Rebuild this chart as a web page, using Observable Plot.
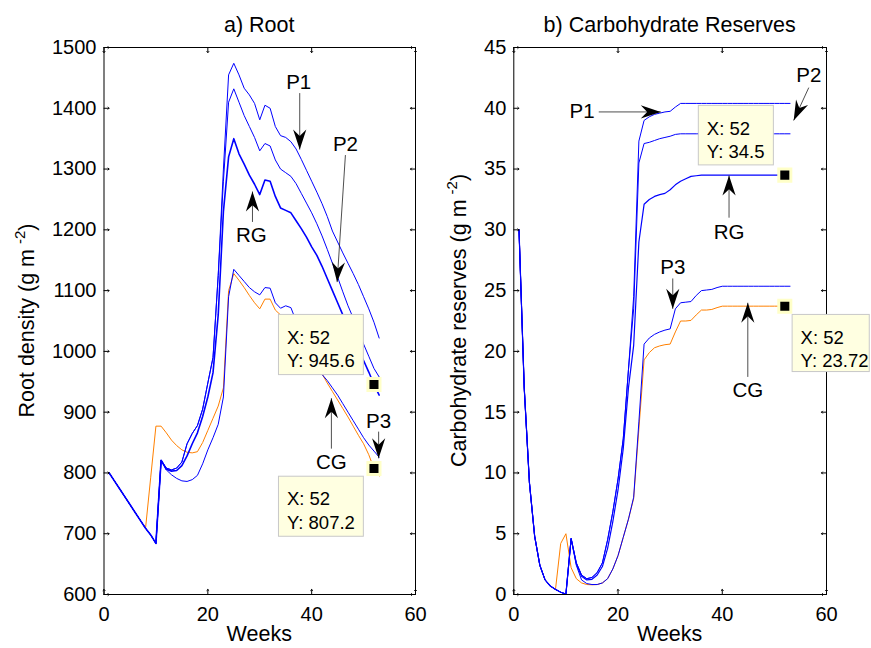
<!DOCTYPE html>
<html>
<head>
<meta charset="utf-8">
<script src="https://cdn.jsdelivr.net/npm/d3@7"></script>
<script src="https://cdn.jsdelivr.net/npm/@observablehq/plot@0.6"></script>
<style>
  body { margin: 0; background: #fff; }
  #fig { position: relative; width: 871px; height: 648px; overflow: hidden; background: #fff; }
  #fig svg { position: absolute; top: 0; overflow: visible; }
</style>
</head>
<body>
<div id="fig"></div>
<script>
// ---------------- DATA ----------------
const weeks = [1,2,3,4,5,6,7,8,9,10,11,12,13,14,15,16,17,18,19,20,21,22,23,24,25,26,27,28,29,30,31,32,33,34,35,36,37,38,39,40,41,42,43,44,45,46,47,48,49,50,51,52,53];
const seriesNames = ["CG", "P3", "RG", "P2", "P1"];
const xTicks = [0, 20, 40, 60];

// a) Root density (g m-2)
const rootCG = [800,787,774,761,748,735,722,709,793,877,877, 866,854,845,838,834,833,835,850,870,890,910, 940,1100,1128,1117,1105,1092,1080,1070,1086,1086,1068,1060,1052,1042,1030,1018,1005,992,978,963,948,934,920,906,892,877,862,848,830,807.2,795];
const rootP3 = [800,787,774,761,748,735,722,709,698,684,821, 805,797,791,787,786,789,796,815,838,858,880, 925,1090,1135,1125,1115,1105,1098,1093,1105,1104,1080,1071,1075,1072,1050,1032,1012,995,978,962,952,940,928,914,900,886,872,858,846,836,826];
const rootRG = [800,787,774,761,748,735,722,709,698,684,821, 806,803,804,812,828,848,866,893,925,965,1060, 1230,1320,1350,1325,1308,1290,1275,1258,1282,1280,1255,1236,1232,1228,1215,1202,1188,1172,1158,1140,1120,1100,1080,1060,1040,1022,1003,985,966,945.6,928];
const rootP2 = [800,787,774,761,748,735,722,709,698,684,821, 808,805,808,818,848,865,878,905,948,990,1125, 1280,1410,1432,1410,1388,1370,1352,1330,1342,1338,1315,1300,1294,1288,1276,1260,1244,1228,1210,1190,1168,1145,1122,1098,1075,1055,1035,1012,992,972,958];
const rootP1 = [800,787,774,761,748,735,722,709,698,684,821, 808,805,808,818,848,865,878,905,948,990,1125, 1300,1455,1474,1455,1433,1422,1408,1381,1405,1400,1370,1355,1352,1345,1333,1316,1298,1280,1262,1243,1222,1198,1180,1162,1145,1128,1110,1090,1070,1048,1022];
const rootYTicks = [600,700,800,900,1000,1100,1200,1300,1400,1500];

// b) Carbohydrate reserves (g m-2)
const carbCG = [30,17,9.2,4.8,2.4,1.2,0.7,0.42,4.2,5.0,2.2, 1.3,0.95,0.82,0.8,0.82,0.95,1.3,2.1,3.2,4.7,6.2, 7.9,13.6,19.3,19.9,20.3,20.45,20.55,20.6,21.6,22.5,22.5,22.55,23.0,23.4,23.4,23.45,23.6,23.72, 23.72,23.72,23.72,23.72,23.72,23.72,23.72,23.72,23.72,23.72,23.72,23.72,23.72];
const carbP3 = [30,17,9.2,4.8,2.4,1.2,0.7,0.42,0.19,0.03,4.6, 2.4,1.2,0.9,0.82,0.82,0.95,1.3,2.1,3.2,4.7,6.2, 8.0,14.2,20.6,21.1,21.4,21.6,21.75,21.85,23.5,24.0,24.05,24.1,24.6,25.0,25.05,25.1,25.25,25.36, 25.36,25.36,25.36,25.36,25.36,25.36,25.36,25.36,25.36,25.36,25.36,25.36,25.36];
const carbRG = [30,17,9.2,4.8,2.4,1.2,0.7,0.42,0.19,0.03,4.6, 2.5,1.5,1.2,1.25,1.6,2.3,3.8,6.0,8.6,12,17, 20.5,29,32.1,32.5,32.75,32.9,33.0,33.3,33.7,34.0,34.2,34.4,34.45,34.5, 34.5,34.5,34.5,34.5,34.5,34.5,34.5,34.5,34.5,34.5,34.5,34.5,34.5,34.5,34.5,34.5,34.5];
const carbP2 = [30,17,9.2,4.8,2.4,1.2,0.7,0.42,0.19,0.03,4.6, 2.6,1.6,1.3,1.4,1.8,2.6,4.5,6.8,9.5,12.8,18.5, 23.5,35.5,37.1,37.2,37.35,37.5,37.6,37.7,37.85,37.9, 37.9,37.9,37.9,37.9,37.9,37.9,37.9,37.9,37.9,37.9,37.9,37.9,37.9,37.9,37.9,37.9,37.9,37.9,37.9,37.9,37.9];
const carbP1 = [30,17,9.2,4.8,2.4,1.2,0.7,0.42,0.19,0.03,4.6, 2.6,1.6,1.3,1.4,1.8,2.6,4.5,6.8,9.5,12.8,18.5, 24.5,37.3,39.0,39.3,39.5,39.6,39.7,39.75,40.1,40.4, 40.4,40.4,40.4,40.4,40.4,40.4,40.4,40.4,40.4,40.4,40.4,40.4,40.4,40.4,40.4,40.4,40.4,40.4,40.4,40.4,40.4];
const carbYTicks = [0,5,10,15,20,25,30,35,40,45];

// annotations (data units: week, value)
const rootLabels = [
  {text: "P1", x: 37.5, y: 1443}, {text: "P2", x: 46.5, y: 1340}, {text: "RG", x: 28.4, y: 1191},
  {text: "P3", x: 52.9, y: 884}, {text: "CG", x: 43.8, y: 817}
];
const rootArrows = [
  {x1: 37.7, y1: 1425, x2: 37.7, y2: 1332},
  {x1: 46.5, y1: 1323, x2: 44.9, y2: 1114},
  {x1: 28.6, y1: 1213, x2: 28.6, y2: 1263},
  {x1: 52.9, y1: 868, x2: 52.9, y2: 824},
  {x1: 43.8, y1: 840, x2: 43.8, y2: 923}
];
const rootTips = [
  {week: 52, series: rootRG, bx1: 33.7, bx2: 50.05, by1: 1060, by2: 961},
  {week: 52, series: rootCG, bx1: 33.7, bx2: 50.05, by1: 793.8, by2: 695}
];
const carbLabels = [
  {text: "P1", x: 13.1, y: 39.7}, {text: "P2", x: 56.6, y: 42.7}, {text: "RG", x: 41.3, y: 29.8},
  {text: "P3", x: 30.5, y: 26.9}, {text: "CG", x: 44.9, y: 16.8}
];
const carbArrows = [
  {x1: 16.3, y1: 39.7, x2: 28.2, y2: 39.7},
  {x1: 56.6, y1: 41.7, x2: 53.7, y2: 39.0},
  {x1: 41.3, y1: 31.0, x2: 41.3, y2: 34.46},
  {x1: 30.5, y1: 26.0, x2: 30.5, y2: 23.5},
  {x1: 44.9, y1: 17.9, x2: 44.9, y2: 24.0}
];
const carbTips = [
  {week: 52, series: carbRG, bx1: 35.5, bx2: 49.9, by1: 40.2, by2: 35.3},
  {week: 52, series: carbCG, bx1: 53.5, bx2: 68.3, by1: 23.0, by2: 18.3}
];

// ---------------- DRAWING ----------------
const FONT = '"Liberation Sans", Arial, Helvetica, sans-serif';
const H = 648, MT = 47, MB = 54;
const BLUE = "#0000ff", ORANGE = "#ff8000";
const LABEL_SIZE = 21.5;

const arrowHead = {
  draw(context, size) {
    const L = Math.sqrt(size / Math.PI);
    const w = L * 0.33, n = L * 0.68;
    context.moveTo(0, 0);
    context.lineTo(w, L);
    context.lineTo(0, n);
    context.lineTo(-w, L);
    context.closePath();
  }
};

function toRows(vals) { return weeks.map((w, i) => ({week: w, value: vals[i]})); }

function panel({left, width, ml, mr, yDomain, yTicks, data, labels, arrows, tips, title, ylabel, ylabelX, rgWidth}) {
  const kx = (width - ml - mr) / 60;
  const ky = (H - MT - MB) / (yDomain[1] - yDomain[0]);
  const arrowRows = arrows.map(a => ({...a, rot: Math.atan2((a.x2 - a.x1) * kx, (a.y2 - a.y1) * ky) * 180 / Math.PI}));
  const tipRows = tips.map(t => {
    const v = t.series[weeks.indexOf(t.week)];
    return {...t, value: v, text: `X: ${t.week}\nY: ${v}`};
  });
  const styleOf = {CG: [ORANGE, 1], P3: [BLUE, 1], RG: [BLUE, rgWidth], P2: [BLUE, 1], P1: [BLUE, 1]};
  const lineMarks = seriesNames.map(name => Plot.line(toRows(data[name]), {
    x: "week", y: "value", stroke: styleOf[name][0], strokeWidth: styleOf[name][1], clip: false
  }));
  const tickStyle = {length: 5, anchor: "start", stroke: "black", strokeWidth: 1};
  const plot = Plot.plot({
    width, height: H,
    marginLeft: ml, marginRight: mr, marginTop: MT, marginBottom: MB,
    style: {fontFamily: FONT, fontSize: "20px", color: "black", background: "transparent", overflow: "visible"},
    x: {domain: [0, 60], label: null},
    y: {domain: yDomain, label: null},
    marks: [
      ...lineMarks,
      Plot.frame({stroke: "black", strokeWidth: 1}),
      Plot.axisX({anchor: "bottom", ticks: xTicks, tickSize: 0, tickPadding: 12, label: null, fontSize: 20}),
      Plot.axisY({anchor: "left", ticks: yTicks, tickSize: 0, tickPadding: 7.5, tickFormat: d => String(d), label: null, fontSize: 20}),
      Plot.vector(xTicks, {x: d => d, frameAnchor: "bottom", rotate: 0, ...tickStyle}),
      Plot.vector(xTicks, {x: d => d, frameAnchor: "top", rotate: 180, ...tickStyle}),
      Plot.vector(yTicks, {y: d => d, frameAnchor: "left", rotate: 90, ...tickStyle}),
      Plot.vector(yTicks, {y: d => d, frameAnchor: "right", rotate: -90, ...tickStyle}),
      Plot.rect(tipRows, {x1: "bx1", x2: "bx2", y1: "by1", y2: "by2", fill: "#ffffe1", stroke: "#c8c8c8", strokeWidth: 1}),
      Plot.text(tipRows, {x: "bx1", y: "by1", text: "text", dx: 8, dy: 12, textAnchor: "start", lineAnchor: "top", lineHeight: 1.27, fontSize: 18.5, fill: "black"}),
      Plot.dot(tipRows, {x: "week", y: "value", symbol: "square", r: 6.8, fill: "black", stroke: "#ffffc8", strokeWidth: 3}),
      Plot.link(arrowRows, {x1: "x1", y1: "y1", x2: "x2", y2: "y2", stroke: "#222", strokeWidth: 0.8}),
      Plot.dot(arrowRows, {x: "x2", y: "y2", symbol: arrowHead, r: 20, rotate: "rot", fill: "black", stroke: "none"}),
      Plot.text(labels, {x: "x", y: "y", text: "text", fontSize: 20.5, textAnchor: "middle", fill: "black"})
    ]
  });
  plot.style.left = left + "px";
  const svg = d3.select(plot);
  const cx = (ml + (width - mr)) / 2;
  svg.append("text").attr("x", cx).attr("y", 32).attr("text-anchor", "middle")
    .attr("font-size", LABEL_SIZE).attr("fill", "black").text(title);
  svg.append("text").attr("x", cx).attr("y", 641).attr("text-anchor", "middle")
    .attr("font-size", LABEL_SIZE).attr("fill", "black").text("Weeks");
  const yl = svg.append("text").attr("transform", `translate(${ylabelX},${(MT + H - MB) / 2}) rotate(-90)`)
    .attr("text-anchor", "middle").attr("font-size", LABEL_SIZE).attr("fill", "black");
  yl.append("tspan").text(ylabel + " (g m");
  yl.append("tspan").attr("dx", 5).attr("dy", -9).attr("font-size", 15).text("-2");
  yl.append("tspan").attr("dy", 9).text(")");
  return plot;
}

const fig = document.getElementById("fig");
fig.appendChild(panel({
  left: 0, width: 430, ml: 103.5, mr: 15,
  yDomain: [600, 1500], yTicks: rootYTicks,
  data: {CG: rootCG, P3: rootP3, RG: rootRG, P2: rootP2, P1: rootP1},
  labels: rootLabels, arrows: rootArrows, tips: rootTips,
  title: "a) Root", ylabel: "Root density", ylabelX: 34, rgWidth: 1.6
}));
fig.appendChild(panel({
  left: 430, width: 441, ml: 83.3, mr: 45,
  yDomain: [0, 45], yTicks: carbYTicks,
  data: {CG: carbCG, P3: carbP3, RG: carbRG, P2: carbP2, P1: carbP1},
  labels: carbLabels, arrows: carbArrows, tips: carbTips,
  title: "b) Carbohydrate Reserves", ylabel: "Carbohydrate reserves", ylabelX: 36, rgWidth: 1.2
}));
</script>
</body>
</html>
